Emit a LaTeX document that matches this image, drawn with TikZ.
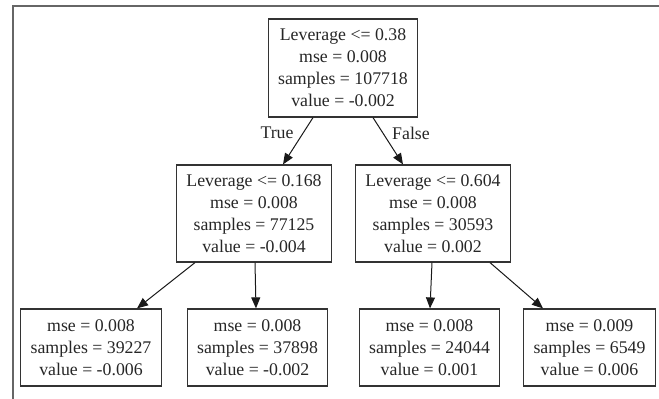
\documentclass[tikz,border=0pt]{standalone}
\usepackage{fontspec}
\setmainfont{Liberation Serif}
\usepackage{xcolor}
\usepackage{tikz}
\usetikzlibrary{positioning,arrows.meta}

\begin{document}
\begin{tikzpicture}[
  x=1pt, y=-1pt,
  split/.style={draw=black!80, line width=1.2pt, align=center, text=black!85,
                font=\fontsize{17.8}{22}\selectfont, inner xsep=10pt, inner ysep=2pt,
                minimum height=98pt},
  leaf/.style={split, minimum height=77pt},
  edge/.style={-{Triangle[length=11pt,width=9pt]}, line width=1pt, black!90},
  lbl/.style={font=\fontsize{17.8}{22}\selectfont, text=black!85}
]
  \useasboundingbox (0,0) rectangle (659,399);
  \coordinate (ftop) at (659,6);
  \coordinate (fcorner) at (13,6);
  \coordinate (fbot) at (13,399);
  \draw[black!60, line width=1.5pt] (ftop) -- (fcorner) -- (fbot);

  \node[split] (root) at (343,68) {Leverage <= 0.38\\mse = 0.008\\samples = 107718\\value = -0.002};
  \node[split, minimum height=97pt] (lev1) at (254,213.5) {Leverage <= 0.168\\mse = 0.008\\samples = 77125\\value = -0.004};
  \node[split, minimum height=97pt] (lev2) at (433,213.5) {Leverage <= 0.604\\mse = 0.008\\samples = 30593\\value = 0.002};

  \node[leaf] (lf1) at (91,347.5) {mse = 0.008\\samples = 39227\\value = -0.006};
  \node[leaf] (lf2) at (257.5,347.5) {mse = 0.008\\samples = 37898\\value = -0.002};
  \node[leaf] (lf3) at (429.5,347.5) {mse = 0.008\\samples = 24044\\value = 0.001};
  \node[leaf] (lf4) at (589.5,347.5) {mse = 0.009\\samples = 6549\\value = 0.006};

  \draw[edge] ([xshift=-30pt]root.south) -- ([xshift=29pt]lev1.north);
  \draw[edge] ([xshift=30pt]root.south) -- ([xshift=-30pt]lev2.north);
  \draw[edge] ([xshift=-59pt]lev1.south) -- ([xshift=46pt]lf1.north);
  \draw[edge] ([xshift=1pt]lev1.south) -- ([xshift=-1.5pt]lf2.north);
  \draw[edge] ([xshift=-1pt]lev2.south) -- ([xshift=0.5pt]lf3.north);
  \draw[edge] ([xshift=57pt]lev2.south) -- ([xshift=-46.5pt]lf4.north);

  \node[lbl] (ltrue) at (277,133) {True};
  \node[lbl] (lfalse) at (411,133) {False};
\end{tikzpicture}
\end{document}
